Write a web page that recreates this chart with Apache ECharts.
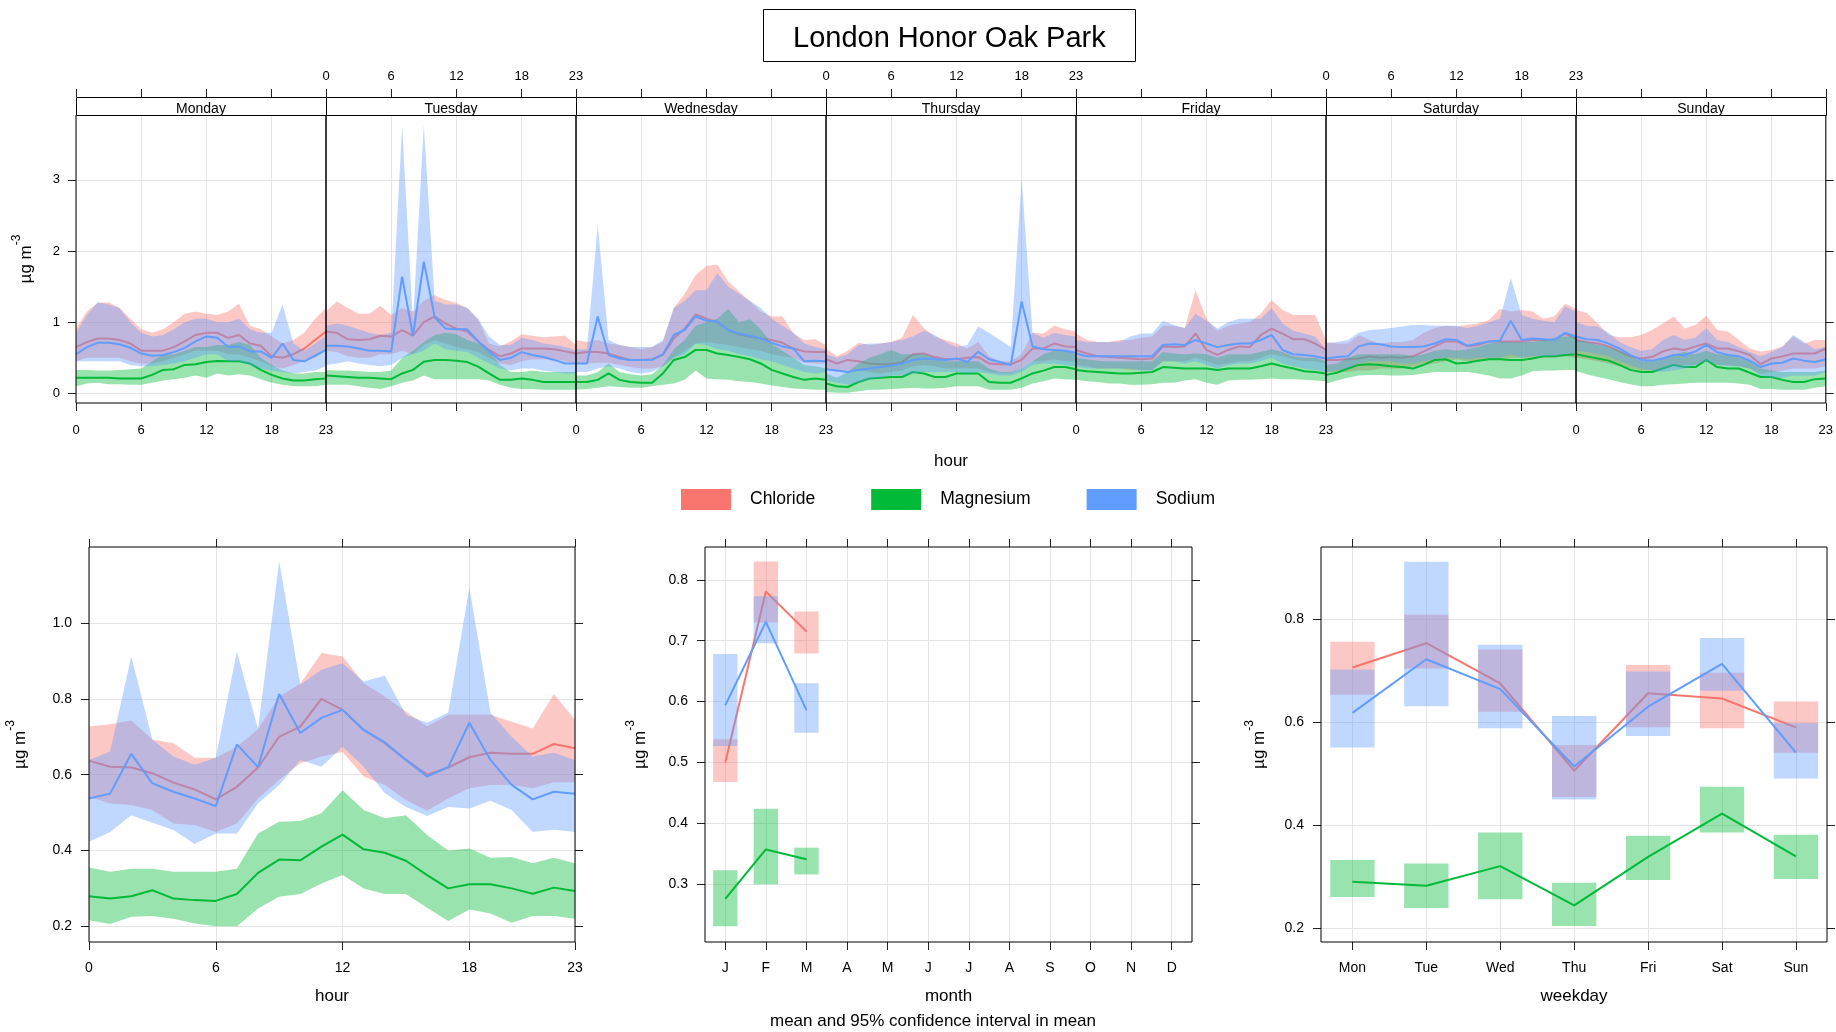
<!DOCTYPE html>
<html>
<head>
<meta charset="utf-8">
<script src="https://cdn.jsdelivr.net/npm/echarts@6/dist/echarts.min.js"></script>
<style>
  html, body { margin: 0; padding: 0; background: #fff; }
  #chart { width: 1836px; height: 1032px; }
</style>
</head>
<body>
<div id="chart"></div>
<script>
// ---- labels and tick values ----
const siteTitle = 'London Honor Oak Park';
const speciesNames = ['Chloride', 'Magnesium', 'Sodium'];
const speciesColors = ['#F8766D', '#00BA38', '#619CFF'];
const dayNames = ['Monday', 'Tuesday', 'Wednesday', 'Thursday', 'Friday', 'Saturday', 'Sunday'];
const hourTicks = [0, 6, 12, 18, 23];
const weekYTicks = [0, 1, 2, 3];
const hourYTicks = [0.2, 0.4, 0.6, 0.8, 1.0];
const monthYTicks = [0.3, 0.4, 0.5, 0.6, 0.7, 0.8];
const weekdayYTicks = [0.2, 0.4, 0.6, 0.8];
const monthLabels = ['J', 'F', 'M', 'A', 'M', 'J', 'J', 'A', 'S', 'O', 'N', 'D'];
const weekdayLabels = ['Mon', 'Tue', 'Wed', 'Thu', 'Fri', 'Sat', 'Sun'];

// ---- day-of-week x hour means and 95% intervals (168 values, Monday 00 first) ----
const chlorideWeekMean = [
  0.65,0.72,0.77,0.77,0.75,0.70,0.60,0.60,0.60,0.65,0.73,0.82,0.85,0.85,0.78,0.82,0.70,0.67,0.52,0.50,0.55,0.63,0.75,0.87,
  0.87,0.85,0.76,0.75,0.76,0.81,0.80,0.89,0.81,1.00,1.08,0.98,0.91,0.87,0.73,0.61,0.52,0.56,0.63,0.63,0.63,0.62,0.59,0.56,
  0.56,0.58,0.58,0.56,0.51,0.47,0.47,0.48,0.54,0.77,0.91,1.11,1.05,1.00,0.89,0.83,0.80,0.77,0.75,0.71,0.63,0.59,0.58,0.58,
  0.48,0.42,0.47,0.45,0.42,0.41,0.41,0.44,0.55,0.56,0.51,0.48,0.48,0.50,0.51,0.42,0.41,0.41,0.47,0.63,0.63,0.70,0.66,0.65,
  0.61,0.56,0.52,0.51,0.50,0.49,0.48,0.49,0.66,0.65,0.66,0.84,0.61,0.54,0.61,0.66,0.65,0.82,0.91,0.84,0.76,0.76,0.70,0.61,
  0.47,0.47,0.48,0.49,0.52,0.50,0.51,0.50,0.52,0.59,0.66,0.73,0.73,0.66,0.68,0.73,0.73,0.73,0.73,0.75,0.75,0.75,0.84,0.77,
  0.75,0.72,0.70,0.66,0.59,0.52,0.49,0.51,0.59,0.63,0.61,0.66,0.70,0.63,0.63,0.59,0.54,0.41,0.49,0.52,0.56,0.56,0.56,0.63
];
const chlorideWeekLower = [
  0.45,0.50,0.50,0.50,0.50,0.45,0.42,0.42,0.45,0.50,0.55,0.60,0.60,0.60,0.55,0.55,0.50,0.45,0.38,0.35,0.40,0.45,0.50,0.60,
  0.60,0.58,0.52,0.50,0.50,0.55,0.55,0.60,0.55,0.68,0.75,0.70,0.65,0.62,0.58,0.50,0.42,0.40,0.45,0.48,0.48,0.48,0.45,0.42,
  0.42,0.42,0.43,0.43,0.40,0.37,0.35,0.35,0.38,0.50,0.60,0.70,0.72,0.70,0.68,0.65,0.62,0.60,0.55,0.52,0.50,0.43,0.42,0.42,
  0.35,0.30,0.32,0.32,0.30,0.28,0.30,0.32,0.38,0.40,0.38,0.35,0.35,0.35,0.35,0.30,0.28,0.28,0.35,0.45,0.45,0.48,0.45,0.45,
  0.40,0.38,0.35,0.35,0.35,0.33,0.33,0.33,0.45,0.45,0.45,0.50,0.45,0.40,0.42,0.45,0.45,0.50,0.55,0.52,0.48,0.45,0.45,0.42,
  0.30,0.30,0.30,0.32,0.32,0.35,0.35,0.35,0.38,0.40,0.42,0.45,0.48,0.45,0.45,0.48,0.48,0.50,0.50,0.50,0.50,0.50,0.52,0.50,
  0.50,0.48,0.45,0.42,0.38,0.35,0.32,0.32,0.35,0.40,0.40,0.40,0.45,0.40,0.40,0.38,0.35,0.28,0.30,0.32,0.35,0.35,0.35,0.38
];
const chlorideWeekUpper = [
  0.91,1.15,1.27,1.28,1.20,1.05,0.90,0.85,0.90,1.00,1.12,1.15,1.12,1.10,1.15,1.26,0.95,0.90,0.80,0.70,0.75,0.85,1.05,1.20,
  1.15,1.29,1.20,1.12,1.12,1.23,1.10,1.20,1.15,1.30,1.38,1.31,1.27,1.20,1.03,0.70,0.66,0.73,0.83,0.81,0.79,0.80,0.81,0.68,
  0.75,0.72,0.75,0.70,0.68,0.65,0.62,0.65,0.72,1.20,1.40,1.66,1.79,1.81,1.57,1.43,1.29,1.15,1.08,1.08,0.84,0.75,0.76,0.68,
  0.63,0.52,0.60,0.71,0.68,0.70,0.72,0.78,1.10,0.92,0.80,0.75,0.70,0.63,0.72,0.52,0.45,0.45,0.55,0.85,0.84,0.95,0.90,0.87,
  0.84,0.75,0.72,0.72,0.75,0.75,0.78,0.80,0.95,0.95,0.92,1.45,1.05,0.88,0.95,0.98,1.00,1.12,1.31,1.17,1.10,1.10,1.10,0.75,
  0.72,0.70,0.70,0.82,0.75,0.70,0.72,0.72,0.75,0.85,0.92,0.95,0.94,0.96,0.98,1.03,1.19,1.15,1.17,1.15,1.05,1.08,1.26,1.19,
  1.17,1.13,0.98,0.82,0.79,0.79,0.82,0.89,0.98,1.08,0.91,0.96,1.09,0.89,0.87,0.75,0.63,0.59,0.61,0.66,0.80,0.70,0.75,0.75
];
const magnesiumWeekMean = [
  0.22,0.22,0.22,0.22,0.21,0.21,0.21,0.26,0.33,0.34,0.40,0.41,0.44,0.455,0.45,0.45,0.42,0.33,0.26,0.21,0.18,0.18,0.20,0.21,
  0.25,0.24,0.23,0.22,0.22,0.21,0.20,0.28,0.33,0.445,0.47,0.47,0.46,0.44,0.375,0.28,0.19,0.19,0.21,0.19,0.16,0.16,0.16,0.16,
  0.16,0.16,0.19,0.28,0.19,0.16,0.15,0.15,0.28,0.47,0.51,0.61,0.61,0.56,0.54,0.51,0.48,0.42,0.33,0.28,0.23,0.19,0.21,0.19,
  0.14,0.10,0.09,0.16,0.21,0.22,0.23,0.23,0.30,0.28,0.23,0.23,0.28,0.28,0.28,0.16,0.15,0.15,0.21,0.28,0.32,0.37,0.37,0.34,
  0.33,0.31,0.30,0.29,0.28,0.28,0.29,0.30,0.37,0.36,0.35,0.35,0.35,0.33,0.35,0.35,0.35,0.38,0.42,0.38,0.35,0.31,0.30,0.28,
  0.26,0.29,0.35,0.40,0.41,0.40,0.38,0.37,0.35,0.40,0.47,0.48,0.42,0.43,0.46,0.48,0.48,0.47,0.47,0.49,0.52,0.52,0.54,0.55,
  0.55,0.52,0.49,0.46,0.40,0.33,0.30,0.30,0.35,0.40,0.37,0.37,0.47,0.37,0.35,0.35,0.29,0.23,0.23,0.19,0.16,0.16,0.20,0.21
];
const magnesiumWeekLower = [
  0.10,0.14,0.15,0.13,0.13,0.12,0.12,0.15,0.18,0.20,0.22,0.25,0.22,0.28,0.25,0.27,0.25,0.20,0.15,0.12,0.10,0.10,0.10,0.12,
  0.12,0.12,0.12,0.10,0.08,0.06,0.10,0.15,0.18,0.25,0.20,0.20,0.20,0.20,0.20,0.18,0.12,0.08,0.06,0.06,0.05,0.05,0.05,0.05,
  0.05,0.06,0.08,0.10,0.09,0.08,0.08,0.10,0.12,0.14,0.19,0.32,0.21,0.20,0.19,0.17,0.16,0.14,0.11,0.09,0.07,0.06,0.05,0.05,
  0.02,0.01,0.01,0.03,0.05,0.05,0.06,0.07,0.08,0.07,0.07,0.08,0.10,0.10,0.10,0.05,0.05,0.05,0.08,0.14,0.17,0.21,0.20,0.19,
  0.19,0.17,0.16,0.14,0.14,0.12,0.12,0.13,0.15,0.15,0.18,0.20,0.15,0.12,0.18,0.19,0.19,0.20,0.21,0.20,0.20,0.19,0.18,0.17,
  0.14,0.18,0.22,0.25,0.26,0.26,0.25,0.25,0.26,0.28,0.30,0.30,0.30,0.30,0.28,0.25,0.21,0.21,0.25,0.31,0.32,0.32,0.33,0.33,
  0.31,0.27,0.23,0.20,0.16,0.13,0.10,0.10,0.12,0.13,0.14,0.15,0.15,0.15,0.15,0.14,0.12,0.06,0.06,0.05,0.05,0.05,0.08,0.10
];
const magnesiumWeekUpper = [
  0.33,0.33,0.32,0.32,0.33,0.34,0.35,0.45,0.55,0.55,0.60,0.65,0.65,0.68,0.68,0.72,0.68,0.50,0.40,0.32,0.28,0.28,0.30,0.30,
  0.33,0.32,0.32,0.31,0.30,0.30,0.32,0.50,0.60,0.72,0.82,0.85,0.83,0.75,0.70,0.60,0.40,0.30,0.30,0.32,0.30,0.30,0.30,0.30,
  0.25,0.25,0.30,0.42,0.30,0.27,0.25,0.27,0.40,0.62,0.75,0.95,1.00,1.05,1.19,1.00,1.04,0.90,0.70,0.60,0.50,0.40,0.38,0.35,
  0.28,0.22,0.30,0.42,0.50,0.55,0.61,0.55,0.55,0.55,0.50,0.45,0.45,0.45,0.45,0.35,0.30,0.30,0.35,0.45,0.55,0.60,0.60,0.55,
  0.50,0.48,0.46,0.45,0.45,0.45,0.45,0.45,0.58,0.56,0.55,0.56,0.55,0.50,0.55,0.55,0.55,0.58,0.62,0.58,0.52,0.50,0.50,0.45,
  0.40,0.42,0.50,0.55,0.55,0.55,0.55,0.55,0.52,0.55,0.60,0.62,0.60,0.62,0.65,0.70,0.72,0.72,0.72,0.72,0.75,0.78,0.80,0.80,
  0.75,0.72,0.68,0.65,0.60,0.52,0.45,0.45,0.50,0.55,0.58,0.55,0.60,0.55,0.55,0.50,0.45,0.35,0.32,0.30,0.30,0.30,0.30,0.32
];
const sodiumWeekMean = [
  0.55,0.65,0.71,0.71,0.69,0.64,0.56,0.53,0.54,0.58,0.64,0.73,0.80,0.78,0.65,0.66,0.59,0.59,0.50,0.70,0.47,0.45,0.53,0.61,
  0.67,0.67,0.66,0.63,0.60,0.60,0.59,1.64,0.81,1.85,1.07,0.91,0.90,0.90,0.73,0.59,0.47,0.50,0.58,0.54,0.51,0.47,0.42,0.42,
  0.42,0.42,1.08,0.54,0.49,0.47,0.47,0.47,0.55,0.82,0.89,1.08,1.02,1.01,0.89,0.84,0.81,0.77,0.71,0.66,0.63,0.45,0.46,0.45,
  0.34,0.32,0.30,0.33,0.35,0.37,0.39,0.42,0.47,0.49,0.48,0.47,0.49,0.44,0.585,0.48,0.44,0.40,1.29,0.66,0.62,0.61,0.60,0.57,
  0.56,0.52,0.52,0.52,0.52,0.52,0.52,0.52,0.68,0.69,0.68,0.75,0.70,0.65,0.68,0.70,0.70,0.75,0.82,0.61,0.55,0.54,0.52,0.49,
  0.49,0.51,0.52,0.66,0.70,0.69,0.66,0.65,0.65,0.66,0.70,0.76,0.75,0.67,0.70,0.73,0.74,1.02,0.75,0.77,0.76,0.75,0.85,0.80,
  0.80,0.76,0.75,0.70,0.63,0.54,0.47,0.46,0.49,0.54,0.54,0.59,0.68,0.58,0.54,0.52,0.46,0.37,0.42,0.43,0.49,0.46,0.44,0.48
];
const sodiumWeekLower = [
  0.45,0.45,0.45,0.45,0.45,0.40,0.38,0.38,0.40,0.42,0.45,0.50,0.55,0.55,0.45,0.45,0.40,0.35,0.32,0.30,0.28,0.30,0.32,0.38,
  0.40,0.42,0.45,0.42,0.40,0.38,0.40,0.50,0.55,0.60,0.70,0.62,0.60,0.58,0.50,0.42,0.35,0.32,0.35,0.35,0.32,0.30,0.28,0.28,
  0.30,0.30,0.35,0.38,0.35,0.30,0.28,0.30,0.38,0.50,0.55,0.70,0.68,0.62,0.60,0.55,0.52,0.48,0.45,0.40,0.35,0.30,0.28,0.30,
  0.18,0.15,0.12,0.15,0.20,0.22,0.25,0.25,0.28,0.30,0.30,0.30,0.30,0.28,0.30,0.28,0.25,0.25,0.30,0.40,0.42,0.42,0.40,0.38,
  0.38,0.35,0.35,0.35,0.35,0.35,0.32,0.32,0.45,0.45,0.42,0.45,0.40,0.35,0.40,0.42,0.42,0.45,0.50,0.42,0.38,0.35,0.33,0.30,
  0.30,0.32,0.35,0.42,0.45,0.45,0.45,0.42,0.42,0.45,0.48,0.50,0.50,0.48,0.50,0.50,0.50,0.55,0.50,0.52,0.52,0.52,0.55,0.55,
  0.60,0.58,0.55,0.52,0.45,0.40,0.35,0.32,0.30,0.32,0.35,0.40,0.45,0.40,0.38,0.38,0.35,0.25,0.22,0.22,0.25,0.25,0.25,0.30
];
const sodiumWeekUpper = [
  0.85,1.10,1.28,1.25,1.20,1.00,0.85,0.80,0.82,0.90,1.00,1.05,1.05,1.00,1.00,1.05,0.90,0.85,0.85,1.25,0.70,0.60,0.70,0.80,
  0.95,0.98,0.95,0.90,0.85,0.82,0.85,3.75,1.00,3.77,1.30,1.25,1.25,1.20,1.05,0.80,0.68,0.68,0.78,0.75,0.70,0.68,0.65,0.60,
  0.62,0.62,2.36,0.75,0.68,0.65,0.65,0.65,0.75,1.20,1.30,1.45,1.45,1.69,1.50,1.40,1.30,1.20,1.05,0.95,0.85,0.70,0.65,0.62,
  0.55,0.50,0.55,0.68,0.70,0.70,0.72,0.75,0.80,0.88,0.82,0.72,0.65,0.68,0.94,0.85,0.75,0.65,3.02,0.85,0.78,0.85,0.82,0.80,
  0.75,0.72,0.72,0.72,0.72,0.80,0.84,0.84,1.02,0.96,0.92,1.12,1.02,0.91,1.00,1.05,1.05,1.05,1.20,0.98,0.88,0.84,0.80,0.62,
  0.70,0.72,0.75,0.85,0.89,0.90,0.92,0.94,0.96,0.96,0.95,0.95,0.95,0.92,0.95,1.00,1.05,1.62,1.10,1.05,1.02,1.00,1.22,1.15,
  1.00,0.95,0.94,0.85,0.72,0.65,0.60,0.62,0.75,0.82,0.75,0.78,0.92,0.75,0.72,0.65,0.58,0.52,0.58,0.65,0.82,0.72,0.62,0.65
];

// ---- hour-of-day means and intervals (hours 0..23) ----
const hours = [0,1,2,3,4,5,6,7,8,9,10,11,12,13,14,15,16,17,18,19,20,21,22,23];
const chlorideHourMean  = [0.637,0.621,0.619,0.604,0.579,0.561,0.535,0.568,0.619,0.700,0.727,0.800,0.771,0.718,0.683,0.639,0.600,0.619,0.646,0.658,0.655,0.655,0.681,0.670];
const chlorideHourLower = [0.542,0.524,0.520,0.507,0.471,0.467,0.449,0.471,0.537,0.586,0.630,0.648,0.660,0.595,0.573,0.533,0.505,0.537,0.564,0.573,0.573,0.564,0.580,0.580];
const chlorideHourUpper = [0.727,0.733,0.743,0.693,0.683,0.645,0.645,0.674,0.720,0.806,0.840,0.921,0.912,0.841,0.806,0.767,0.727,0.758,0.758,0.758,0.740,0.722,0.813,0.745];
const magnesiumHourMean  = [0.279,0.273,0.279,0.295,0.273,0.269,0.267,0.285,0.341,0.376,0.374,0.410,0.442,0.403,0.394,0.373,0.335,0.300,0.311,0.311,0.300,0.286,0.302,0.293];
const magnesiumHourLower = [0.216,0.206,0.225,0.227,0.220,0.207,0.200,0.200,0.247,0.278,0.285,0.313,0.335,0.300,0.285,0.285,0.249,0.214,0.244,0.234,0.209,0.227,0.227,0.220];
const magnesiumHourUpper = [0.355,0.344,0.352,0.352,0.344,0.344,0.344,0.352,0.445,0.476,0.478,0.498,0.559,0.507,0.485,0.493,0.441,0.400,0.405,0.381,0.383,0.366,0.381,0.366];
const sodiumHourMean  = [0.537,0.550,0.655,0.577,0.555,0.537,0.517,0.680,0.620,0.813,0.710,0.750,0.771,0.718,0.685,0.639,0.595,0.620,0.737,0.639,0.573,0.535,0.555,0.550];
const sodiumHourLower = [0.423,0.449,0.493,0.473,0.454,0.417,0.445,0.445,0.524,0.573,0.639,0.621,0.674,0.621,0.551,0.515,0.491,0.515,0.511,0.531,0.507,0.449,0.455,0.449];
const sodiumHourUpper = [0.639,0.661,0.912,0.692,0.648,0.626,0.645,0.925,0.720,1.163,0.837,0.877,0.894,0.846,0.861,0.758,0.737,0.764,1.093,0.764,0.700,0.648,0.658,0.639];

// ---- monthly means and intervals (Jan..Mar observed) ----
const months = [1, 2, 3];
const chlorideMonthMean  = [0.500, 0.781, 0.715];
const chlorideMonthLower = [0.468, 0.730, 0.679];
const chlorideMonthUpper = [0.538, 0.830, 0.748];
const magnesiumMonthMean  = [0.276, 0.357, 0.341];
const magnesiumMonthLower = [0.231, 0.300, 0.316];
const magnesiumMonthUpper = [0.323, 0.424, 0.360];
const sodiumMonthMean  = [0.594, 0.731, 0.586];
const sodiumMonthLower = [0.527, 0.696, 0.549];
const sodiumMonthUpper = [0.678, 0.773, 0.630];

// ---- weekday means and intervals (Mon..Sun) ----
const weekdays = [1, 2, 3, 4, 5, 6, 7];
const chlorideDayMean  = [0.706, 0.753, 0.675, 0.506, 0.656, 0.646, 0.590];
const chlorideDayLower = [0.653, 0.704, 0.620, 0.455, 0.590, 0.588, 0.541];
const chlorideDayUpper = [0.756, 0.808, 0.741, 0.556, 0.711, 0.696, 0.640];
const magnesiumDayMean  = [0.291, 0.283, 0.321, 0.245, 0.339, 0.423, 0.340];
const magnesiumDayLower = [0.261, 0.240, 0.257, 0.205, 0.294, 0.386, 0.296];
const magnesiumDayUpper = [0.333, 0.326, 0.386, 0.289, 0.380, 0.475, 0.382];
const sodiumDayMean  = [0.618, 0.722, 0.664, 0.514, 0.630, 0.713, 0.541];
const sodiumDayLower = [0.551, 0.631, 0.588, 0.450, 0.573, 0.661, 0.491];
const sodiumDayUpper = [0.702, 0.911, 0.750, 0.612, 0.698, 0.763, 0.598];

// ---- styling ----
const FONT = '"Liberation Sans", Arial, Helvetica, sans-serif';
const GRID_COLOR = '#e4e4e4';
const TICK_COLOR = '#222';
const BAND_ALPHA = 0.4;
const unitName = '{a|µg m}{b|-3}';
const unitRich = {
  a: { fontSize: 17, fontFamily: FONT, color: '#000', lineHeight: 24, verticalAlign: 'bottom' },
  b: { fontSize: 12, fontFamily: FONT, color: '#000', lineHeight: 14, verticalAlign: 'top' }
};

function rgba(hex, a) {
  const n = parseInt(hex.slice(1), 16);
  return 'rgba(' + (n >> 16) + ',' + ((n >> 8) & 255) + ',' + (n & 255) + ',' + a + ')';
}

// layout of the panels
const weekLeft = 76, dayWidth = 250, weekTop = 115, weekBottom = 403, stripTop = 97;
const weekYMin = -0.135, weekYMax = 3.91;
const lowTop = 547, lowHeight = 395;
const NO_LINE = { show: false, onZero: false };

const grids = [], xAxes = [], yAxes = [], series = [], graphics = [];

function tickOpts(values, length, show) {
  return { show: show, length: length, customValues: values, lineStyle: { color: TICK_COLOR, width: 1 } };
}
function labelOpts(values, show, margin, size, formatter) {
  const o = { show: show, customValues: values, margin: margin, fontSize: size, fontFamily: FONT, color: '#000' };
  if (formatter) o.formatter = formatter;
  return o;
}

// band of the 95% interval, drawn as one polygon through the axis scales
function bandSeries(name, color, xi, yi, xs, lo, hi, z) {
  const rows = xs.map((x, i) => [x, lo[i], hi[i]]);
  return {
    type: 'custom', name: name, xAxisIndex: xi, yAxisIndex: yi, silent: true, clip: true,
    encode: { x: 0, y: [1, 2] }, data: rows, z: z,
    renderItem: function (params, api) {
      if (params.dataIndex !== 0) return null;
      const top = rows.map(r => api.coord([r[0], r[2]]));
      const bottom = rows.map(r => api.coord([r[0], r[1]])).reverse();
      return { type: 'polygon', silent: true, shape: { points: top.concat(bottom) }, style: { fill: rgba(color, BAND_ALPHA) } };
    }
  };
}
// rectangle for each interval in the month and weekday panels
function boxSeries(name, color, xi, yi, xs, lo, hi, halfWidth, z) {
  return {
    type: 'custom', name: name, xAxisIndex: xi, yAxisIndex: yi, silent: true, z: z,
    encode: { x: 0, y: [1, 2] }, data: xs.map((x, i) => [x, lo[i], hi[i]]),
    renderItem: function (params, api) {
      const x = api.value(0);
      const a = api.coord([x - halfWidth, api.value(2)]);
      const b = api.coord([x + halfWidth, api.value(1)]);
      return { type: 'rect', shape: { x: a[0], y: a[1], width: b[0] - a[0], height: b[1] - a[1] }, style: { fill: rgba(color, BAND_ALPHA) } };
    }
  };
}
function meanSeries(name, color, xi, yi, xs, ys, width, z) {
  return {
    type: 'line', name: name, xAxisIndex: xi, yAxisIndex: yi, silent: true, z: z,
    data: xs.map((x, i) => [x, ys[i]]), symbol: 'none', showSymbol: false,
    lineStyle: { color: color, width: width }, itemStyle: { color: color }
  };
}

const weekMeans = [chlorideWeekMean, magnesiumWeekMean, sodiumWeekMean];
const weekLowers = [chlorideWeekLower, magnesiumWeekLower, sodiumWeekLower];
const weekUppers = [chlorideWeekUpper, magnesiumWeekUpper, sodiumWeekUpper];

// ---- day-of-week x hour panels ----
dayNames.forEach(function (day, d) {
  const left = weekLeft + d * dayWidth;
  const gi = grids.length;
  grids.push({ left: left, top: weekTop, width: dayWidth, height: weekBottom - weekTop,
    show: true, borderColor: '#000', borderWidth: 1, z: 10 });
  const xb = xAxes.length;
  const bottomAxis = {
    type: 'value', gridIndex: gi, position: 'bottom', min: 0, max: 23,
    axisLine: NO_LINE, axisTick: tickOpts(hourTicks, 8, true),
    axisLabel: labelOpts(hourTicks, d % 2 === 0, 21, 13),
    splitLine: { show: true, lineStyle: { color: GRID_COLOR, width: 1 } }
  };
  if (d === 3) {
    bottomAxis.name = 'hour';
    bottomAxis.nameLocation = 'middle';
    bottomAxis.nameGap = 50;
    bottomAxis.nameTextStyle = { fontSize: 17, fontFamily: FONT, color: '#000' };
  }
  xAxes.push(bottomAxis);
  xAxes.push({
    type: 'value', gridIndex: gi, position: 'top', offset: weekTop - stripTop, min: 0, max: 23,
    axisLine: NO_LINE, axisTick: tickOpts(hourTicks, 8, true),
    axisLabel: labelOpts(hourTicks, d % 2 === 1, 14, 13), splitLine: { show: false }
  });
  const yi = yAxes.length;
  const yAxis = {
    type: 'value', gridIndex: gi, position: 'left', min: weekYMin, max: weekYMax,
    axisLine: NO_LINE, axisTick: tickOpts(weekYTicks, 8, d === 0),
    axisLabel: labelOpts(weekYTicks, d === 0, 16, 13),
    splitLine: { show: true, lineStyle: { color: GRID_COLOR, width: 1 } }
  };
  if (d === 0) {
    yAxis.name = unitName;
    yAxis.nameLocation = 'middle';
    yAxis.nameRotate = 90;
    yAxis.nameGap = 41;
    yAxis.nameTextStyle = { rich: unitRich };
  }
  yAxes.push(yAxis);
  if (d === dayNames.length - 1) {
    yAxes.push({
      type: 'value', gridIndex: gi, position: 'right', min: weekYMin, max: weekYMax,
      axisLine: NO_LINE, axisTick: tickOpts(weekYTicks, 8, true),
      axisLabel: { show: false }, splitLine: { show: false }
    });
  }
  const from = d * 24;
  speciesNames.forEach(function (sp, s) {
    series.push(bandSeries(sp, speciesColors[s], xb, yi, hours,
      weekLowers[s].slice(from, from + 24), weekUppers[s].slice(from, from + 24), 2 + 2 * s));
    series.push(meanSeries(sp, speciesColors[s], xb, yi, hours, weekMeans[s].slice(from, from + 24), 2, 3 + 2 * s));
  });
  // strip with the day name
  graphics.push({
    type: 'rect', z: 20, silent: true,
    shape: { x: left + 0.5, y: stripTop + 0.5, width: dayWidth, height: weekTop - stripTop },
    style: { fill: '#fff', stroke: '#000', lineWidth: 1 }
  });
  graphics.push({
    type: 'text', z: 21, silent: true,
    style: { text: day, x: left + dayWidth / 2, y: (stripTop + weekTop) / 2 + 3,
      textAlign: 'center', align: 'center', textVerticalAlign: 'middle', verticalAlign: 'middle',
      fontSize: 14, fontFamily: FONT, fill: '#000' }
  });
});

// ---- lower panels ----
function lowerPanel(cfg) {
  const gi = grids.length;
  grids.push({ left: cfg.left, top: lowTop, width: cfg.width, height: lowHeight,
    show: true, borderColor: '#000', borderWidth: 1, z: 10 });
  const xb = xAxes.length;
  xAxes.push({
    type: 'value', gridIndex: gi, position: 'bottom', min: cfg.xMin, max: cfg.xMax,
    axisLine: NO_LINE, axisTick: tickOpts(cfg.xTicks, 8, true),
    axisLabel: labelOpts(cfg.xTicks, true, 19, 14, cfg.xFormat),
    splitLine: { show: true, lineStyle: { color: GRID_COLOR, width: 1 } },
    name: cfg.xName, nameLocation: 'middle', nameGap: 46,
    nameTextStyle: { fontSize: 17, fontFamily: FONT, color: '#000' }
  });
  xAxes.push({
    type: 'value', gridIndex: gi, position: 'top', min: cfg.xMin, max: cfg.xMax,
    axisLine: NO_LINE, axisTick: tickOpts(cfg.xTicks, 8, true),
    axisLabel: { show: false }, splitLine: { show: false }
  });
  const yi = yAxes.length;
  yAxes.push({
    type: 'value', gridIndex: gi, position: 'left', min: cfg.yMin, max: cfg.yMax,
    axisLine: NO_LINE, axisTick: tickOpts(cfg.yTicks, 8, true),
    axisLabel: labelOpts(cfg.yTicks, true, 17, 14, v => v.toFixed(1)),
    splitLine: { show: true, lineStyle: { color: GRID_COLOR, width: 1 } },
    name: unitName, nameLocation: 'middle', nameRotate: 90, nameGap: cfg.yNameGap,
    nameTextStyle: { rich: unitRich }
  });
  yAxes.push({
    type: 'value', gridIndex: gi, position: 'right', min: cfg.yMin, max: cfg.yMax,
    axisLine: NO_LINE, axisTick: tickOpts(cfg.yTicks, 8, true),
    axisLabel: { show: false }, splitLine: { show: false }
  });
  speciesNames.forEach(function (sp, s) {
    if (cfg.boxHalf) {
      series.push(boxSeries(sp, speciesColors[s], xb, yi, cfg.xs, cfg.lower[s], cfg.upper[s], cfg.boxHalf, 2 + 2 * s));
    } else {
      series.push(bandSeries(sp, speciesColors[s], xb, yi, cfg.xs, cfg.lower[s], cfg.upper[s], 2 + 2 * s));
    }
    series.push(meanSeries(sp, speciesColors[s], xb, yi, cfg.xs, cfg.mean[s], 2, 3 + 2 * s));
  });
}

lowerPanel({
  left: 89, width: 486, xMin: 0, xMax: 23, xTicks: hourTicks, xName: 'hour',
  yMin: 0.1585, yMax: 1.2008, yTicks: hourYTicks, yNameGap: 60, xs: hours,
  mean: [chlorideHourMean, magnesiumHourMean, sodiumHourMean],
  lower: [chlorideHourLower, magnesiumHourLower, sodiumHourLower],
  upper: [chlorideHourUpper, magnesiumHourUpper, sodiumHourUpper]
});
lowerPanel({
  left: 705, width: 487, xMin: 0.5, xMax: 12.5, xTicks: [1,2,3,4,5,6,7,8,9,10,11,12],
  xFormat: v => monthLabels[Math.round(v) - 1], xName: 'month',
  yMin: 0.205, yMax: 0.854, yTicks: monthYTicks, yNameGap: 56, xs: months, boxHalf: 0.3,
  mean: [chlorideMonthMean, magnesiumMonthMean, sodiumMonthMean],
  lower: [chlorideMonthLower, magnesiumMonthLower, sodiumMonthLower],
  upper: [chlorideMonthUpper, magnesiumMonthUpper, sodiumMonthUpper]
});
lowerPanel({
  left: 1321, width: 506, xMin: 0.575, xMax: 7.42, xTicks: weekdays,
  xFormat: v => weekdayLabels[Math.round(v) - 1], xName: 'weekday',
  yMin: 0.174, yMax: 0.9395, yTicks: weekdayYTicks, yNameGap: 53, xs: weekdays, boxHalf: 0.3,
  mean: [chlorideDayMean, magnesiumDayMean, sodiumDayMean],
  lower: [chlorideDayLower, magnesiumDayLower, sodiumDayLower],
  upper: [chlorideDayUpper, magnesiumDayUpper, sodiumDayUpper]
});

graphics.push({
  type: 'text', silent: true,
  style: { text: 'mean and 95% confidence interval in mean', x: 933, y: 1021,
    textAlign: 'center', align: 'center', textVerticalAlign: 'middle', verticalAlign: 'middle',
    fontSize: 17, fontFamily: FONT, fill: '#000' }
});

const chart = echarts.init(document.getElementById('chart'), null, { renderer: 'canvas' });
chart.setOption({
  backgroundColor: '#fff',
  animation: false,
  title: {
    text: siteTitle, left: 763, top: 9, padding: [14, 30, 8, 30],
    borderColor: '#000', borderWidth: 1,
    textStyle: { fontSize: 29, fontWeight: 'normal', fontFamily: FONT, color: '#000', lineHeight: 31 }
  },
  legend: {
    left: 676, top: 484, itemWidth: 50, itemHeight: 21, itemGap: 56, icon: 'rect',
    selectedMode: false,
    textStyle: { fontSize: 17.5, fontFamily: FONT, color: '#000', padding: [0, 0, 0, 14] },
    data: speciesNames.map((n, i) => ({ name: n, itemStyle: { color: speciesColors[i], opacity: 1, borderWidth: 0 } }))
  },
  grid: grids,
  xAxis: xAxes,
  yAxis: yAxes,
  graphic: { elements: graphics },
  series: series
});
</script>
</body>
</html>
